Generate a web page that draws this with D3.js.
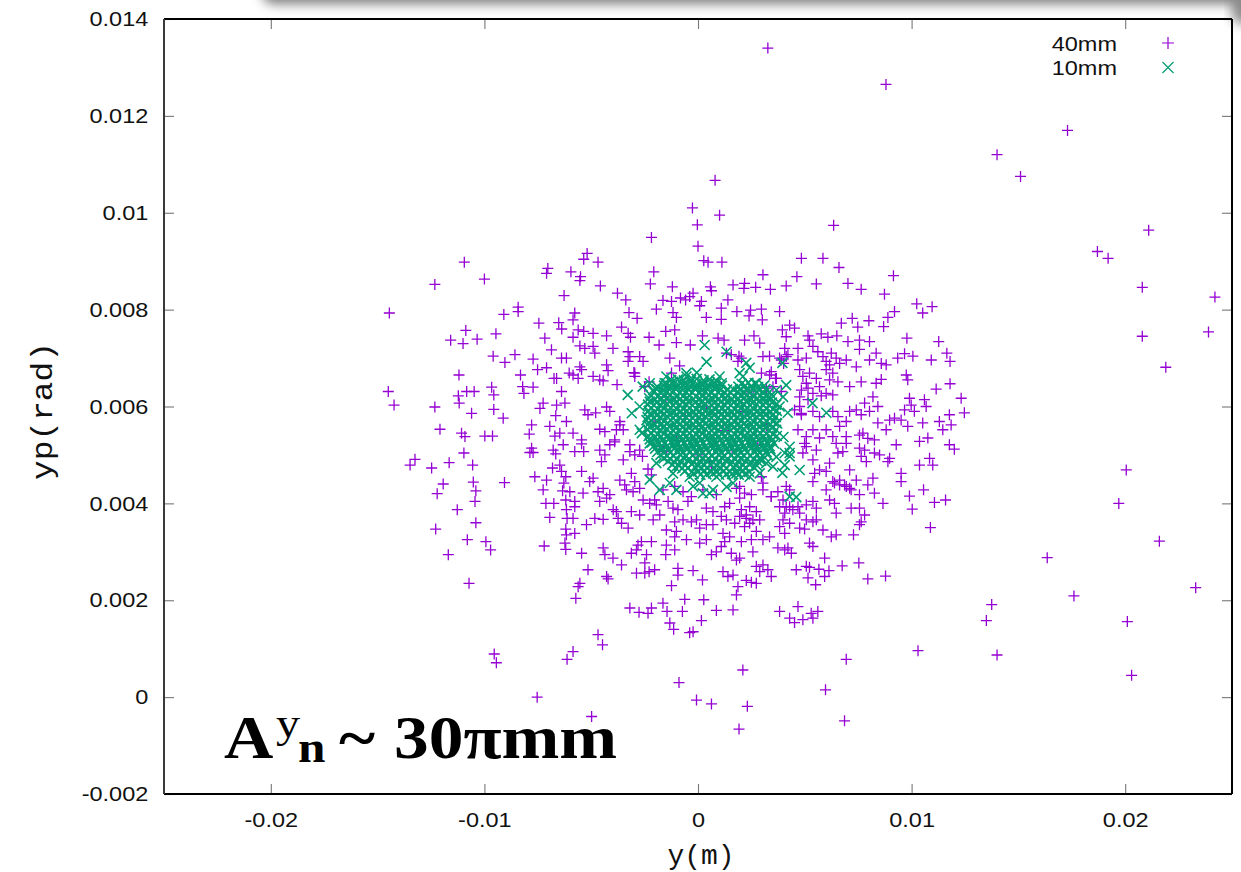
<!DOCTYPE html>
<html>
<head>
<meta charset="utf-8">
<script src="https://cdn.jsdelivr.net/npm/d3@7"></script>
<style>
  body { margin: 0; background: #fff; }
  svg { display: block; }
</style>
</head>
<body>
<svg id="chart" width="1241" height="872"></svg>
<script>
// Axis ticks (m on x, rad on y)
const xTicks = [-0.02, -0.01, 0, 0.01, 0.02];
const xTickLabels = ["-0.02", "-0.01", "0", "0.01", "0.02"];
const yTicks = [-0.002, 0, 0.002, 0.004, 0.006, 0.008, 0.01, 0.012, 0.014];
const yTickLabels = ["-0.002", "0", "0.002", "0.004", "0.006", "0.008", "0.01", "0.012", "0.014"];
const seriesNames = ["40mm", "10mm"];

// Phase-space points: [y in mm, yp in mrad]
const beam40mm = [
  [3.27,13.4],[8.8,12.65],[17.3,11.7],[14.0,11.2],[15.1,10.75],[21.1,9.64],[18.7,9.2],[19.2,9.06],[20.8,8.46],[24.2,8.26],
  [23.9,7.54],[20.8,7.45],[21.9,6.81],[20.05,4.69],[19.7,4.0],[21.6,3.22],[16.35,2.88],[23.3,2.26],[17.6,2.09],[13.75,1.91],
  [13.5,1.58],[20.1,1.56],[14.0,0.87],[20.3,0.45],[10.3,0.96],
  [0.8,10.67],[-0.26,10.1],[1.01,9.95],[-0.03,9.75],[6.35,9.74],[-2.18,9.49],[0,9.31],[-5.19,9.16],[-5.35,9.04],[-4.68,8.98],
  [0.27,9.01],[0.47,8.98],[1.12,8.98],[4.84,9.06],[5.85,9.06],[3.04,8.72],[9.15,8.7],[6.6,8.87],
  [-10.94,8.98],[-12.32,8.52],[-10.0,8.63],[-14.45,7.93],[-7.03,8.85],[-7.09,8.75],[-6.27,8.29],[-8.42,8.05],[-8.42,7.96],[-9.09,7.9],
  [-7.45,7.72],[-6.52,7.73],[-10.87,7.57],[-11.58,7.37],[-11.0,7.3],[-10.34,7.39],[-9.46,7.5],[-7.17,7.41],[-6.86,7.17],[-9.59,7.04],
  [-9.04,6.91],[-8.57,7.07],[-7.72,6.98],[-7.51,6.76],[-7.09,6.8],[-11.19,6.65],[-8.31,6.65],[-14.5,6.31],[-14.23,6.03],[-12.32,5.99],
  [-11.22,6.22],[-11.18,6.07],[-10.83,6.31],[-10.48,6.31],[-9.66,6.4],[-9.56,6.24],[-9.56,5.94],[-10.6,5.86],[-9.12,5.76],[-8.21,6.41],
  [-8.15,6.27],[-7.72,6.4],[-6.74,6.58],[-6.62,6.58],[-7.25,6.07],[-7.4,5.96],[-6.62,6.03],[-6.23,6.07],[-6.66,5.81],[-7.79,5.62],
  [-6.94,5.59],[-6.16,5.69],[-12.08,5.53],[-11.07,5.45],[-10.91,5.38],[-9.98,5.39],[-9.62,5.39],[-7.9,5.43],[-6.47,5.45],[-6.39,6.31],
  [-6.03,6.69],
  [-6.7,5.39],[-6.31,5.21],[-7.79,5.14],[-7.87,5.05],[-7.72,5.05],[-6.78,5.1],[-6.66,5.02],[-13.25,4.91],[-13.48,4.79],[-12.47,4.73],
  [-11.65,4.84],[-10.96,5.04],[-10.55,4.79],[-11.93,4.4],[-12.21,4.2],[-10.52,4.44],[-10.4,4.26],[-10.44,4.04],[-9.06,4.43],[-7.64,4.55],
  [-7.09,4.48],[-7.25,4.28],[-6.47,4.79],[-6.81,4.73],[-6.39,4.66],[-6.19,4.55],[-6.34,4.26],[-6.19,4.07],[-7.12,4.0],[-6.75,4.0],
  [-11.27,3.87],[-6.94,3.71],[-6.13,3.69],[-10.4,3.6],[-12.28,3.47],[-10.8,3.25],[-9.93,3.21],[-9.71,3.04],[-11.69,2.94],[-7.2,3.12],
  [-6.19,3.47],[-6.16,3.35],[-6.23,3.18],[-6.19,3.05],[-10.72,2.35],
  [-9.54,0.89],[-9.44,0.71],[-7.53,0.0],[-4.98,-0.4],
  [-5.95,8.78],[-5.5,8.68],[-5.53,8.6],[-2.07,8.78],[-2.23,8.53],[-4.57,8.49],[-3.77,8.34],[-3.38,8.2],[-1.2,8.47],[0.58,8.47],
  [0.63,8.39],[1.64,8.51],[2.18,8.54],[2.15,8.44],[2.7,8.46],[3.39,8.42],[4.13,8.49],[-1.64,8.19],[-1.24,8.17],[-0.82,8.24],
  [-0.58,8.2],[-0.39,8.27],[-0.23,8.34],[0.16,8.17],[0.08,8.08],[1.4,8.2],[1.09,8.03],[1.09,7.8],[1.82,7.96],[2.46,7.99],
  [2.39,7.87],[2.97,8.01],[3.01,7.79],[3.82,7.96],[-5.77,7.93],[-5.85,7.79],[-3.23,7.94],[-2.85,7.82],[-1.95,8.01],[-1.17,7.94],
  [-1.01,7.84],[0.39,7.84],[-6.38,7.6],[-5.61,7.58],[-5.35,7.55],[-4.91,7.51],[-5.85,7.43],[-4.28,7.46],[-3.58,7.64],[-3.27,7.51],
  [-3.16,7.43],[-2.29,7.43],[-1.82,7.27],[-1.51,7.55],[-1.09,7.58],[-1.01,7.32],[-0.36,7.27],[0.21,7.46],[0.94,7.41],[1.22,7.37],
  [2.18,7.37],[2.62,7.46],[2.89,7.31],[3.95,7.58],[4.13,7.44],[-5.53,7.25],[-5.3,7.2],[-4.91,7.24],[-4.83,7.1],[-3.98,7.2],
  [-3.27,7.13],[-3.19,7.03],[-3.27,6.93],[-2.73,7.03],[-2.57,6.93],[-1.32,7.0],[-0.86,6.84],[1.33,7.1],[1.56,7.07],[1.92,7.04],
  [2.03,7.0],[3.04,7.03],[3.35,7.04],[3.82,7.0],[4.01,6.89],[-6.39,7.0],[-6.16,7.0],[-5.53,6.82],[-5.45,6.76],[-5.85,6.65],
  [-5.61,6.58],[-4.91,6.62],[-4.28,6.86],[-4.21,6.74],[-4.6,6.55],[-4.44,6.53],[-3.0,6.7],[-2.96,6.62],[-3.79,6.45],[-2.29,6.51],
  [-2.49,6.41],[-5.3,5.93],[-5.15,5.83],[-4.79,5.87],[-4.28,5.99],[-4.13,5.9],[-4.6,5.53],[-4.36,5.48],[-3.66,5.69],[-3.5,5.52],
  [-5.85,5.45],[-5.45,5.31],[-3.9,5.31],[3.2,6.38],[3.51,6.41],[3.9,6.31],[3.35,6.65],[3.63,6.58],[3.9,6.96],[4.21,7.07],
  [1.87,6.93],
  [-5.45,5.23],[-5.35,5.07],[-5.77,5.07],[-4.6,5.1],[-4.36,5.0],[-4.13,5.21],[-3.9,5.27],[-4.52,4.86],[-3.19,5.21],[-2.96,5.0],
  [-2.73,5.1],[-2.6,4.97],[-6.28,4.42],[-6.0,4.24],[-5.77,4.04],[-6.16,3.87],[-5.77,3.93],[-5.45,4.66],[-5.07,4.45],[-4.91,4.52],
  [-5.38,4.21],[-4.68,4.24],[-4.44,4.31],[-4.13,4.18],[-4.6,4.04],[-4.28,4.11],[-3.66,4.48],[-3.43,4.38],[-3.12,4.62],[-2.96,4.45],
  [-3.35,4.28],[-3.04,4.24],[-2.73,4.31],[-2.34,4.71],[-2.18,4.59],[-3.97,3.87],[-3.82,3.83],[-3.74,3.69],[-3.58,3.59],[-3.27,3.49],
  [-5.85,3.69],[-5.77,3.38],[-5.22,3.56],[-4.83,3.69],[-4.44,3.67],[-5.45,2.97],[-4.44,3.08],[-4.36,2.94],[-3.98,2.87],[-3.58,2.73],
  [-5.15,2.63],[-4.28,2.49],[-4.21,2.44],[-5.53,2.35],[-5.61,2.28],[-5.72,2.04],[-3.12,2.97],[-2.81,3.14],[-2.41,2.94],[-2.18,3.21],
  [-2.88,2.56],[-2.49,2.56],[-2.29,2.59],[-2.03,2.63],[-2.49,2.77],[-1.48,3.14],[-1.09,3.04],[-1.51,2.94],[-1.24,2.3],[-0.94,2.66],
  [-0.94,2.52],[-0.23,2.61],[0.21,2.42],[-0.62,2.02],[0.27,2.01],[-3.19,1.84],[-2.76,1.75],[-2.34,1.73],[-2.18,1.84],[-1.64,1.94],
  [-1.45,1.77],[-0.73,1.77],[-1.32,1.53],[-1.14,1.4],[-0.39,1.33],[-0.23,1.35],[0.16,1.58],[0.86,1.79],[1.64,1.8],[-4.68,1.29],
  [-4.47,1.08],[-5.85,0.94],[-6.13,0.78],[2.1,0.56],[-0.89,0.3],[-0.07,-0.06],[0.63,-0.14],[2.31,-0.19],[1.92,-0.66],[3.82,1.77],
  [-2.03,4.07],[-1.95,3.97],[-1.79,3.76],[-2.1,3.66],[-2.57,4.07],[-2.26,4.0],[-1.4,4.04],[-1.17,3.9],[-0.94,3.87],[-1.09,3.62],
  [-0.47,4.04],[-0.31,4.14],[-0.7,3.66],[-0.31,3.62],[-0.07,3.66],[-1.48,3.45],[-1.01,3.42],[-1.09,3.31],[-0.54,3.25],[0.08,3.49],
  [0.39,3.56],[0.7,3.56],[0.08,3.18],[0.39,3.25],[0.63,2.94],[0.86,3.0],[1.09,3.11],[1.25,3.21],[1.48,3.31],[1.17,3.38],
  [1.33,3.66],[1.72,3.59],[1.95,3.73],[2.26,3.69],[2.42,3.59],[2.18,3.52],[1.56,2.97],[1.95,2.87],[1.8,2.83],[2.03,3.21],
  [2.5,3.25],[2.73,3.42],[2.57,3.0],[2.73,2.7],[3.04,2.73],[2.89,2.59],[3.27,2.63],[3.43,2.49],[2.26,2.41],[2.5,2.37],
  [2.73,2.35],[1.87,2.28],[1.8,2.11],[1.17,2.59],[1.4,2.49],[1.64,2.52],[3.74,3.08],[4.21,3.08],[3.82,3.52],[4.06,3.38],
  [3.35,3.31],[3.04,3.25],[-2.65,3.21],[-2.88,3.04],[1.25,3.93],[1.48,4.0],[1.95,4.11],[2.18,4.21],[2.5,4.18],[2.42,3.93],
  [2.03,3.87],[2.73,3.83],[2.89,3.66],[2.57,3.66],[2.26,3.76],[3.04,4.28],[3.43,4.14],[3.74,4.24],[4.13,4.35],[3.82,3.93],
  [4.06,3.8],[4.29,3.93],[0.23,4.28],[0.86,4.18],[0.39,3.9],[0.7,3.83],[1.09,3.73],[-1.09,4.35],[-0.7,4.24],[-1.64,4.28],
  [-2.73,3.76],[-3.12,3.83],
  [5.54,8.53],[7.02,8.54],[7.64,8.42],[4.63,8.68],[8.73,8.32],[10.24,8.12],[10.96,8.06],[10.52,7.93],[9.2,7.96],[8.89,7.84],
  [8.69,7.65],[6.71,7.72],[7.22,7.82],[7.48,7.64],[8.0,7.77],[4.29,7.68],[4.52,7.62],[5.15,7.46],[5.22,7.37],[5.77,7.5],
  [6.08,7.43],[6.5,7.46],[7.02,7.34],[7.56,7.37],[8.03,7.34],[7.56,7.18],[9.78,7.41],[11.27,7.34],[4.06,7.2],[4.68,7.2],
  [5.38,7.24],[5.61,7.13],[5.85,7.03],[6.24,7.1],[6.0,6.93],[6.47,7.0],[4.68,6.96],[5.07,7.0],[4.13,7.03],[6.94,6.96],
  [7.41,6.82],[8.03,6.96],[8.34,7.1],[8.58,6.89],[8.81,6.86],[9.35,7.0],[9.67,7.09],[10.06,7.04],[10.92,6.96],[11.65,7.1],
  [11.8,6.93],[9.75,6.65],[9.82,6.55],[4.76,6.76],[4.91,6.62],[5.22,6.69],[5.07,6.48],[5.54,6.58],[5.69,6.41],[6.16,6.86],
  [6.0,6.76],[6.31,6.69],[6.16,6.55],[6.55,6.51],[6.63,6.89],[7.1,6.41],[7.64,6.51],[8.34,6.48],[8.58,6.56],[11.15,6.36],
  [11.8,6.47],[12.32,6.17],[12.47,5.87],[4.84,6.34],[5.15,6.38],[4.76,6.2],[5.38,6.27],[5.77,6.22],[6.0,6.27],[6.31,6.24],
  [5.15,6.14],[8.19,6.2],[7.8,6.07],[8.42,6.0],[8.03,5.9],[9.9,6.17],[9.98,6.03],[9.67,5.93],[10.13,5.9],[10.6,6.14],
  [10.68,6.0],[4.76,6.0],[4.84,5.83],[5.38,5.9],[5.69,5.79],[6.31,5.9],[6.55,5.79],[6.94,5.69],[7.1,5.9],[7.41,5.93],
  [7.64,5.83],[8.97,5.72],[9.2,5.76],[9.51,5.72],[8.42,5.66],[8.81,5.52],[7.72,5.45],[7.56,5.41],[7.95,5.34],[8.26,5.31],
  [10.52,5.66],[11.3,5.69],[11.77,5.83],[11.46,5.52],[11.85,5.62],[9.82,5.59],[10.37,5.28],[10.76,5.35],[11.77,5.21],[9.28,5.21],
  [5.38,5.52],[5.69,5.35],[6.0,5.52],[6.31,5.38],[6.63,5.59],[6.94,5.38],[6.47,5.24],[4.99,5.24],
  [12.0,5.12],[10.37,4.79],[10.84,4.93],[10.99,4.79],[9.51,4.62],[9.51,4.45],[8.89,4.86],[8.97,4.93],[8.19,4.52],[7.95,4.38],
  [8.26,4.21],[10.56,4.28],[9.9,4.15],[11.07,4.02],[11.59,4.07],[10.03,3.88],[10.88,3.5],[8.66,4.0],[7.56,4.18],[7.17,4.28],
  [6.94,4.35],[6.63,4.38],[6.31,4.45],[6.0,4.28],[7.17,3.9],[7.56,3.9],[7.8,3.76],[7.64,3.62],[7.56,3.56],[7.28,3.35],
  [6.16,4.07],[6.39,4.0],[6.47,3.8],[5.54,3.9],[5.38,4.04],[5.85,3.45],[6.24,3.31],[6.47,3.35],[4.99,3.47],[5.22,3.18],
  [5.38,3.11],[5.54,3.66],[5.07,3.66],[4.06,3.04],[4.37,2.97],[5.93,2.87],[6.75,2.71],[7.53,2.77],[4.6,2.63],[5.07,2.7],
  [5.22,2.68],[5.66,2.64],[6.13,2.61],[5.15,2.46],[5.51,2.32],[5.93,2.49],[7.95,2.44],[8.78,2.5],[4.68,1.87],[4.29,1.63],
  [4.52,1.54],[4.91,1.6],[5.3,1.73],[5.61,1.77],[5.38,1.63],[6.94,0.78],[5.97,0.15],[6.86,-0.49],
  [4.91,5.04],[5.07,5.17],[5.54,5.1],[5.38,4.9],[5.69,4.69],[5.46,4.62],[6.0,4.66],[6.16,4.83],[6.55,5.04],[6.78,5.07],
  [6.94,5.24],[7.56,5.14],[7.8,5.1],[7.64,4.97],[7.88,4.86],[8.26,5.04],[8.5,5.0],[7.1,4.69],[7.41,4.48],[6.63,4.48],
  [6.39,4.42],[6.86,4.38],[7.1,4.31],[5.38,4.45],[4.29,4.28],[4.13,3.93],[4.44,3.87],[4.76,3.8],[3.98,3.66],[4.29,3.59],
  [4.76,3.49],[5.38,3.62],[4.68,3.93],[5.07,3.97],
  [-2.96,6.69],[-1.24,6.69],[2.97,6.69],[3.43,6.72],[3.67,6.58],[-3.66,5.62],[-3.82,5.52],[-3.19,5.07],[-3.5,4.9],[-1.79,5.17],
  [-1.48,5.07],[0.55,4.86],[0.63,4.76],[2.97,4.55],[3.04,4.42],[3.43,4.14],[3.98,4.07],[1.8,4.31],[1.95,4.35],[4.52,5.93],
  [4.84,5.86],[4.68,5.52],[5.07,5.38],
  [-1.5,6.2],[-0.6,5.8],[0.4,6.0],[1.2,5.5],[2.1,5.9],[2.8,5.2],[-1.0,5.3],[0.0,5.0],[1.6,5.1],[2.5,6.3],[-2.0,5.7],[3.2,5.6]
];

const beam10mm = [
  // scattered halo
  [0.31,7.27],[1.34,7.13],[0.4,6.92],[2.42,6.8],[-0.06,6.7],[3.95,6.9],[-3.29,6.24],[-2.59,6.41],[-3.1,5.86],[-2.63,5.45],
  [-2.26,4.49],[-1.79,4.28],[0.08,4.42],[0.54,4.21],[1.34,4.34],[2.42,4.55],[3.95,4.63],[4.29,4.14],[3.67,4.96],[4.0,5.37],
  [3.67,6.34],[4.13,6.44],[3.98,6.2],[4.2,5.87],[5.36,6.07],[6.01,5.87],[4.29,5.04],[4.76,4.69],[4.6,4.13],[4.29,4.97],
  [-0.54,6.69],[1.01,6.62],[2.1,6.62],[2.73,6.48],[-1.48,6.48],[-2.1,6.34],[-2.73,6.0],[-2.41,5.72],[-2.26,5.24],[-1.95,4.83],
  [-1.17,4.62],[-0.39,4.55],[0.86,4.55],[1.8,4.62],[3.2,4.83],[3.67,5.66],[3.82,6.0],[3.35,6.2],[2.26,6.9],[1.95,6.69],
  [-2.26,6.48],[-2.73,5.52],[-1.48,6.62],[-1.17,6.51],[-0.54,6.62],[-1.32,4.42],[-1.01,4.28],[-0.23,4.35],[0.23,4.21],[0.7,4.28],
  [1.64,4.42],[2.89,4.62],[3.51,4.76],[4.06,4.79],[4.06,5.04],[4.29,5.17],
  // dense core
  [-1.26,6.55],[-0.94,6.56],[-0.66,6.54],[-0.33,6.55],[-0.06,6.57],[0.26,6.54],[0.54,6.56],[0.86,6.53],
  [-1.56,6.48],[-1.24,6.49],[-0.96,6.47],[-0.64,6.48],[-0.36,6.5],[-0.04,6.47],[0.24,6.48],[0.56,6.49],[0.84,6.47],[1.11,6.48],
  [2.04,6.47],[2.36,6.49],[2.66,6.48],
  [-1.91,6.41],[-1.59,6.43],[-1.31,6.42],[-0.99,6.4],[-0.71,6.43],[-0.38,6.42],[-0.11,6.41],[0.21,6.43],[0.49,6.42],[0.81,6.4],
  [1.12,6.43],[1.89,6.41],[2.21,6.43],[2.49,6.42],[2.81,6.4],[3.1,6.43],
  [-1.94,6.36],[-1.66,6.34],[-1.34,6.35],[-1.06,6.37],[-0.74,6.34],[-0.46,6.35],[-0.14,6.36],[0.16,6.34],[0.44,6.35],[0.76,6.37],
  [1.04,6.34],[1.36,6.35],[1.64,6.36],[1.96,6.34],[2.24,6.35],[2.56,6.37],[2.84,6.34],[3.16,6.36],
  [-2.06,6.3],[-1.74,6.28],[-1.46,6.29],[-1.14,6.31],[-0.86,6.28],[-0.54,6.3],[-0.26,6.29],[0.06,6.28],[0.34,6.31],[0.66,6.29],
  [0.94,6.3],[1.26,6.28],[1.54,6.29],[1.86,6.31],[2.14,6.28],[2.46,6.3],[2.74,6.29],[3.06,6.28],[3.34,6.3],
  [-2.21,6.23],[-1.89,6.21],[-1.61,6.22],[-1.29,6.24],[-1.01,6.21],[-0.69,6.22],[-0.41,6.23],[-0.09,6.21],[0.19,6.22],[0.51,6.24],
  [0.79,6.21],[1.11,6.22],[1.39,6.23],[1.71,6.21],[1.99,6.22],[2.31,6.24],[2.59,6.21],[2.91,6.23],[3.19,6.22],[3.51,6.21],
  [-2.29,6.17],[-2.01,6.15],[-1.69,6.16],[-1.41,6.18],[-1.09,6.15],[-0.81,6.16],[-0.49,6.17],[-0.21,6.15],[0.11,6.16],[0.39,6.18],
  [0.71,6.15],[0.99,6.16],[1.31,6.17],[1.59,6.15],[1.91,6.16],[2.19,6.18],[2.51,6.15],[2.79,6.17],[3.11,6.16],[3.39,6.15],
  [-2.26,6.1],[-1.94,6.08],[-1.66,6.09],[-1.34,6.11],[-1.06,6.08],[-0.74,6.09],[-0.46,6.1],[-0.14,6.08],[0.14,6.09],[0.46,6.11],
  [0.74,6.08],[1.06,6.09],[1.34,6.1],[1.66,6.08],[1.94,6.09],[2.26,6.11],[2.54,6.08],[2.86,6.1],[3.14,6.09],[3.46,6.08],
  [-2.34,6.04],[-2.06,6.02],[-1.74,6.03],[-1.46,6.05],[-1.14,6.02],[-0.86,6.03],[-0.54,6.04],[-0.26,6.02],[0.06,6.03],[0.34,6.05],
  [0.66,6.02],[0.94,6.04],[1.26,6.03],[1.54,6.02],[1.86,6.04],[2.14,6.03],[2.46,6.02],[2.74,6.05],[3.06,6.03],[3.34,6.02],[3.66,6.04],
  [-2.21,5.97],[-1.89,5.95],[-1.61,5.96],[-1.29,5.98],[-1.01,5.95],[-0.69,5.96],[-0.41,5.97],[-0.09,5.95],[0.19,5.96],[0.51,5.98],
  [0.79,5.95],[1.11,5.96],[1.39,5.97],[1.71,5.95],[1.99,5.96],[2.31,5.98],[2.59,5.95],[2.91,5.97],[3.19,5.96],[3.51,5.95],
  [-2.31,5.91],[-1.99,5.89],[-1.71,5.9],[-1.39,5.92],[-1.11,5.89],[-0.79,5.9],[-0.51,5.91],[-0.19,5.89],[0.09,5.9],[0.41,5.92],
  [0.69,5.89],[1.01,5.9],[1.29,5.91],[1.61,5.89],[1.89,5.9],[2.21,5.92],[2.49,5.89],[2.81,5.91],[3.09,5.9],[3.41,5.89],[3.69,5.91],
  [-2.26,5.84],[-1.94,5.82],[-1.66,5.83],[-1.34,5.85],[-1.06,5.82],[-0.74,5.83],[-0.46,5.84],[-0.14,5.82],[0.14,5.83],[0.46,5.85],
  [0.74,5.82],[1.06,5.83],[1.34,5.84],[1.66,5.82],[1.94,5.83],[2.26,5.85],[2.54,5.82],[2.86,5.84],[3.14,5.83],[3.46,5.82],
  [-2.36,5.78],[-2.04,5.76],[-1.76,5.77],[-1.44,5.79],[-1.16,5.76],[-0.84,5.77],[-0.56,5.78],[-0.24,5.76],[0.04,5.77],[0.36,5.79],
  [0.64,5.76],[0.96,5.77],[1.24,5.78],[1.56,5.76],[1.84,5.77],[2.16,5.79],[2.44,5.76],[2.76,5.78],[3.04,5.77],[3.36,5.76],[3.64,5.78],
  [-2.21,5.71],[-1.89,5.69],[-1.61,5.7],[-1.29,5.72],[-1.01,5.69],[-0.69,5.7],[-0.41,5.71],[-0.09,5.69],[0.19,5.7],[0.51,5.72],
  [0.79,5.69],[1.11,5.7],[1.39,5.71],[1.71,5.69],[1.99,5.7],[2.31,5.72],[2.59,5.69],[2.91,5.71],[3.19,5.7],[3.51,5.69],
  [-2.29,5.65],[-2.01,5.63],[-1.69,5.64],[-1.41,5.66],[-1.09,5.63],[-0.81,5.64],[-0.49,5.65],[-0.21,5.63],[0.11,5.64],[0.39,5.66],
  [0.71,5.63],[0.99,5.64],[1.31,5.65],[1.59,5.63],[1.91,5.64],[2.19,5.66],[2.51,5.63],[2.79,5.65],[3.11,5.64],[3.39,5.63],[3.71,5.65],
  [-2.26,5.58],[-1.94,5.56],[-1.66,5.57],[-1.34,5.59],[-1.06,5.56],[-0.74,5.57],[-0.46,5.58],[-0.14,5.56],[0.14,5.57],[0.46,5.59],
  [0.74,5.56],[1.06,5.57],[1.34,5.58],[1.66,5.56],[1.94,5.57],[2.26,5.59],[2.54,5.56],[2.86,5.58],[3.14,5.57],[3.46,5.56],
  [-2.34,5.52],[-2.06,5.5],[-1.74,5.51],[-1.46,5.53],[-1.14,5.5],[-0.86,5.51],[-0.54,5.52],[-0.26,5.5],[0.06,5.51],[0.34,5.53],
  [0.66,5.5],[0.94,5.51],[1.26,5.52],[1.54,5.5],[1.86,5.51],[2.14,5.53],[2.46,5.5],[2.74,5.52],[3.06,5.51],[3.34,5.5],[3.66,5.52],
  [-2.21,5.45],[-1.89,5.43],[-1.61,5.44],[-1.29,5.46],[-1.01,5.43],[-0.69,5.44],[-0.41,5.45],[-0.09,5.43],[0.19,5.44],[0.51,5.46],
  [0.79,5.43],[1.11,5.44],[1.39,5.45],[1.71,5.43],[1.99,5.44],[2.31,5.46],[2.59,5.43],[2.91,5.45],[3.19,5.44],[3.51,5.43],
  [-2.31,5.39],[-1.99,5.37],[-1.71,5.38],[-1.39,5.4],[-1.11,5.37],[-0.79,5.38],[-0.51,5.39],[-0.19,5.37],[0.09,5.38],[0.41,5.4],
  [0.69,5.37],[1.01,5.38],[1.29,5.39],[1.61,5.37],[1.89,5.38],[2.21,5.4],[2.49,5.37],[2.81,5.39],[3.09,5.38],[3.41,5.37],[3.69,5.39],
  [-2.26,5.32],[-1.94,5.3],[-1.66,5.31],[-1.34,5.33],[-1.06,5.3],[-0.74,5.31],[-0.46,5.32],[-0.14,5.3],[0.14,5.31],[0.46,5.33],
  [0.74,5.3],[1.06,5.31],[1.34,5.32],[1.66,5.3],[1.94,5.31],[2.26,5.33],[2.54,5.3],[2.86,5.32],[3.14,5.31],[3.46,5.3],
  [-2.16,5.26],[-1.84,5.24],[-1.56,5.25],[-1.24,5.27],[-0.96,5.24],[-0.64,5.25],[-0.36,5.26],[-0.04,5.24],[0.24,5.25],[0.56,5.27],
  [0.84,5.24],[1.16,5.25],[1.44,5.26],[1.76,5.24],[2.04,5.25],[2.36,5.27],[2.64,5.24],[2.96,5.26],[3.24,5.25],[3.56,5.24],
  [-2.06,5.19],[-1.74,5.17],[-1.46,5.18],[-1.14,5.2],[-0.86,5.17],[-0.54,5.18],[-0.26,5.19],[0.06,5.17],[0.34,5.18],[0.66,5.2],
  [0.94,5.17],[1.26,5.18],[1.54,5.19],[1.86,5.17],[2.14,5.18],[2.46,5.2],[2.74,5.17],[3.06,5.19],[3.36,5.18],
  [-2.01,5.13],[-1.69,5.11],[-1.41,5.12],[-1.09,5.14],[-0.81,5.11],[-0.49,5.12],[-0.21,5.13],[0.11,5.11],[0.39,5.12],[0.71,5.14],
  [0.99,5.11],[1.31,5.12],[1.59,5.13],[1.91,5.11],[2.19,5.12],[2.51,5.14],[2.79,5.11],[3.11,5.13],[3.39,5.12],
  [-1.91,5.06],[-1.59,5.04],[-1.31,5.05],[-0.99,5.07],[-0.71,5.04],[-0.39,5.05],[-0.11,5.06],[0.21,5.04],[0.49,5.05],[0.81,5.07],
  [1.09,5.04],[1.41,5.05],[1.69,5.06],[2.01,5.04],[2.29,5.05],[2.61,5.07],[2.89,5.04],[3.21,5.06],
  [-1.76,5.0],[-1.44,4.98],[-1.16,4.99],[-0.84,5.01],[-0.56,4.98],[-0.24,4.99],[0.04,5.0],[0.36,4.98],[0.64,4.99],[0.96,5.01],
  [1.24,4.98],[1.56,4.99],[1.84,5.0],[2.16,4.98],[2.44,4.99],[2.76,5.01],[3.04,4.98],[3.26,5.0],
  [-1.61,4.93],[-1.29,4.91],[-1.01,4.92],[-0.69,4.94],[-0.41,4.91],[-0.09,4.92],[0.19,4.93],[0.51,4.91],[0.79,4.92],[1.11,4.94],
  [1.39,4.91],[1.71,4.92],[1.99,4.93],[2.31,4.91],[2.59,4.92],[2.91,4.94],
  [-1.41,4.87],[-1.09,4.85],[-0.81,4.86],[-0.49,4.88],[-0.21,4.85],[0.11,4.86],[0.39,4.87],[0.71,4.85],[1.01,4.86],[1.29,4.88],
  [1.61,4.85],[1.89,4.86],[2.21,4.87],[2.49,4.85],[2.81,4.86],[2.96,4.88],
  [-1.21,4.8],[-0.89,4.78],[-0.61,4.79],[-0.29,4.81],[0.01,4.78],[0.29,4.79],[0.61,4.8],[0.89,4.78],[1.19,4.79],[1.51,4.81],
  [1.79,4.78],[2.11,4.79],[2.41,4.8],[2.76,4.78],
  [-1.06,4.74],[-0.74,4.72],[-0.46,4.73],[-0.14,4.75],[0.14,4.72],[0.46,4.73],[0.74,4.74],[1.06,4.72],[1.34,4.73],[1.66,4.75],
  [1.94,4.72],[2.26,4.73],[2.64,4.74],
  [-0.61,4.67],[-0.29,4.65],[0.01,4.66],[0.29,4.68],[0.61,4.65],[0.89,4.66],[1.21,4.67],[1.49,4.65],[1.81,4.66],[2.09,4.68],[2.39,4.65],
  [-0.21,4.61],[0.11,4.59],[0.39,4.6],[0.71,4.62],[0.99,4.59],[1.31,4.6],[1.59,4.61],[1.91,4.59],[2.19,4.6]
];

const W = 1241, H = 872;
const frame = { left: 164, right: 1232, top: 19, bottom: 794 };
const SANS = "'Liberation Sans', Arial, Helvetica, sans-serif";
const MONO = "'Liberation Mono', 'Courier New', monospace";
const SERIF = "'Liberation Serif', 'Times New Roman', serif";
const STRETCH = 1.12;   // horizontal stretch of the exported lettering

const x = d3.scaleLinear().domain([-0.025, 0.025]).range([frame.left, frame.right]);
const y = d3.scaleLinear().domain([-0.002, 0.014]).range([frame.bottom, frame.top]);

const svg = d3.select("#chart");
svg.append("rect").attr("width", W).attr("height", H).attr("fill", "#fff");

// soft drop shadow of the slide element above the plot
const defs = svg.append("defs");
defs.append("filter").attr("id", "soft").attr("x", "-20%").attr("y", "-200%").attr("width", "140%").attr("height", "500%")
  .append("feGaussianBlur").attr("stdDeviation", 6);
svg.append("rect")
  .attr("x", 262).attr("y", -40).attr("width", 1010).attr("height", 44).attr("rx", 12)
  .attr("fill", "#7d7d7d").attr("filter", "url(#soft)");
svg.append("rect")
  .attr("x", 1232).attr("y", -30).attr("width", 40).attr("height", 54).attr("rx", 10)
  .attr("fill", "#8a8a8a").attr("filter", "url(#soft)");

// axes with inward ticks
const tickColor = "#777";
function styleAxis(g) {
  g.select(".domain").remove();
  g.selectAll(".tick line").attr("stroke", tickColor).attr("stroke-width", 1.1);
  g.selectAll(".tick text")
    .attr("fill", "#111")
    .style("font-family", SANS).style("font-size", "21px");
}

const gx = svg.append("g").attr("transform", `translate(0,${frame.bottom})`)
  .call(d3.axisBottom(x).tickValues(xTicks).tickFormat((d, i) => xTickLabels[i]).tickSizeInner(-10).tickSizeOuter(0).tickPadding(18));
styleAxis(gx);
gx.selectAll(".tick text").attr("transform", `scale(${STRETCH},1)`);

const gy = svg.append("g").attr("transform", `translate(${frame.left},0)`)
  .call(d3.axisLeft(y).tickValues(yTicks).tickFormat((d, i) => yTickLabels[i]).tickSizeInner(-10).tickSizeOuter(0).tickPadding(14));
styleAxis(gy);
gy.selectAll(".tick text").attr("transform", `scale(${STRETCH},1)`);

// mirrored ticks on top and right
const gxt = svg.append("g").attr("transform", `translate(0,${frame.top})`)
  .call(d3.axisTop(x).tickValues(xTicks).tickFormat("").tickSizeInner(-10).tickSizeOuter(0));
styleAxis(gxt);
const gyr = svg.append("g").attr("transform", `translate(${frame.right},0)`)
  .call(d3.axisRight(y).tickValues(yTicks).tickFormat("").tickSizeInner(-10).tickSizeOuter(0));
styleAxis(gyr);

// plot border
svg.append("line").attr("x1", frame.left).attr("x2", frame.right).attr("y1", frame.top).attr("y2", frame.top)
  .attr("stroke", "#000").attr("stroke-width", 2);
svg.append("line").attr("x1", frame.left).attr("x2", frame.right).attr("y1", frame.bottom).attr("y2", frame.bottom)
  .attr("stroke", "#000").attr("stroke-width", 2);
svg.append("line").attr("x1", frame.right).attr("x2", frame.right).attr("y1", frame.top).attr("y2", frame.bottom)
  .attr("stroke", "#000").attr("stroke-width", 2);
svg.append("line").attr("x1", frame.left).attr("x2", frame.left).attr("y1", frame.top).attr("y2", frame.bottom)
  .attr("stroke", "#3a3a3a").attr("stroke-width", 2);

// point markers
const PLUS = "M-5.5,0H5.5M0,-5.5V5.5";
const TIMES = "M-5,-5L5,5M-5,5L5,-5";
const colors = ["#9400d3", "#009e73"];

const points = svg.append("g");
points.append("g").selectAll("path").data(beam40mm).join("path")
  .attr("d", PLUS)
  .attr("transform", d => `translate(${x(d[0] / 1000)},${y(d[1] / 1000)})`)
  .attr("fill", "none").attr("stroke", colors[0]).attr("stroke-width", 1.3);
points.append("g").selectAll("path").data(beam10mm).join("path")
  .attr("d", TIMES)
  .attr("transform", d => `translate(${x(d[0] / 1000)},${y(d[1] / 1000)})`)
  .attr("fill", "none").attr("stroke", colors[1]).attr("stroke-width", 1.6);

// key
const key = svg.append("g");
seriesNames.forEach((name, i) => {
  const cy = 43 + i * 24.5;
  key.append("text")
    .attr("transform", `translate(1117,${cy + 7.5}) scale(${STRETCH},1)`)
    .attr("text-anchor", "end")
    .style("font-family", SANS).style("font-size", "21px").attr("fill", "#111")
    .text(name);
  key.append("path")
    .attr("d", i === 0 ? "M-6,0H6M0,-6V6" : "M-5.5,-5.5L5.5,5.5M-5.5,5.5L5.5,-5.5")
    .attr("transform", `translate(1168,${cy})`)
    .attr("fill", "none").attr("stroke", colors[i]).attr("stroke-width", 1.2);
});

// axis titles
svg.append("text")
  .attr("transform", `translate(41,411) rotate(-90)`)
  .attr("text-anchor", "middle").attr("dy", "0.35em")
  .style("font-family", MONO).style("font-size", "30px").attr("fill", "#111")
  .attr("textLength", 138).attr("lengthAdjust", "spacingAndGlyphs")
  .text("yp(rad)");
svg.append("text")
  .attr("x", 701).attr("y", 864)
  .attr("text-anchor", "middle")
  .style("font-family", MONO).style("font-size", "28px").attr("fill", "#111")
  .attr("textLength", 67).attr("lengthAdjust", "spacingAndGlyphs")
  .text("y(m)");

// emittance annotation
const note = svg.append("g").attr("fill", "#000").style("font-family", SERIF);
function noteText(str, px, py, size, weight) {
  note.append("text")
    .attr("transform", `translate(${px},${py}) scale(${STRETCH},1)`)
    .style("font-size", size + "px").style("font-weight", weight)
    .text(str);
}
noteText("A", 224, 758, 61, "bold");
noteText("y", 276, 737, 43, "normal");
noteText("n", 298, 762, 44, "bold");
noteText("~", 339, 758, 62, "bold");
noteText("30\u03c0mm", 394, 758, 62, "bold");
</script>
</body>
</html>
